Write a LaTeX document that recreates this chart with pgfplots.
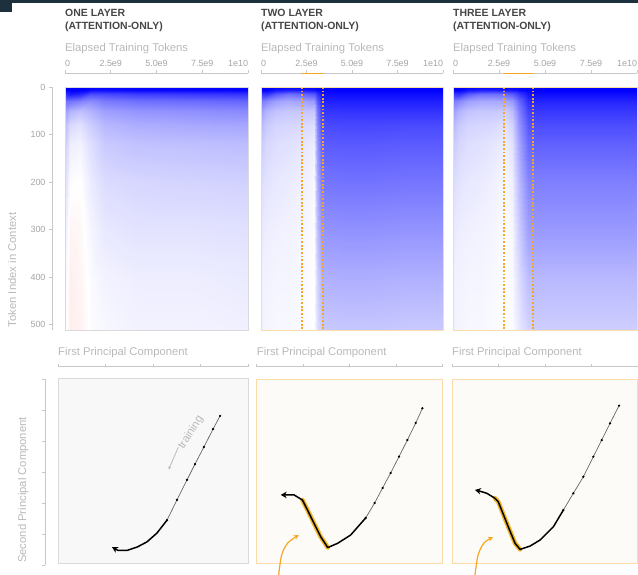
\documentclass[border=0pt]{standalone}
\usepackage{pgfplots}
\pgfplotsset{compat=1.18}
\usepackage{fontspec}
\setmainfont{Liberation Sans}
\usetikzlibrary{arrows.meta}
\definecolor{orng}{RGB}{245,166,35}
\definecolor{hl}{RGB}{240,178,40}
\definecolor{titlec}{RGB}{70,70,70}
\definecolor{labc}{RGB}{185,185,185}
\definecolor{tickc}{RGB}{165,165,165}
\definecolor{rulec}{RGB}{200,200,200}
\definecolor{bord1}{RGB}{218,218,218}
\definecolor{bordo}{RGB}{252,218,170}
\definecolor{bg1}{RGB}{248,248,248}
\definecolor{bgo}{RGB}{253,251,248}
\definecolor{strip}{RGB}{28,48,62}
\newcommand{\labfont}{\fontsize{11.3}{13}\selectfont}
\newcommand{\titfont}{\fontsize{10.5}{12}\selectfont\bfseries}
\pgfplotsset{
  heat/.style={scale only axis, anchor=south west, height=243bp,
    xmin=0, xmax=10, ymin=0, ymax=511, y dir=reverse,
    xtick=\empty, ytick=\empty, axis on top,
    colormap={rwb}{rgb255(0cm)=(255,0,0); rgb255(1cm)=(255,255,255); rgb255(2cm)=(0,0,255)},
    point meta min=-1, point meta max=1},
  ruler/.style={scale only axis, anchor=south west, height=1bp, hide y axis,
    axis x line=top, axis line style={rulec, line width=0.8pt, -},
    tick style={rulec, line width=0.8pt}, tick align=outside, major tick length=3bp,
    ymin=0, ymax=1, clip=false},
  hruler/.style={ruler, xmin=0, xmax=10, xtick={0,2.5,5,7.5,10},
    xticklabels={\makebox[0pt][l]{0},2.5e9,5.0e9,7.5e9,\makebox[0pt][r]{1e10}},
    xticklabel style={text=tickc, font=\fontsize{9}{10}\selectfont}},
  pruler/.style={ruler, xmin=0, xmax=1, xtick={0,0.25,0.5,0.75,1}, xticklabels={}},
  pc/.style={scale only axis, anchor=south west, xmin=0, xmax=1, ymin=0, ymax=1,
    xtick=\empty, ytick=\empty, clip=false},
  early/.style={black!60, line width=0.7pt, mark=*, mark size=0.75pt, mark options={black}},
  late/.style={black, line width=1.5pt, line join=round},
  vline/.style={orng, line width=1.6pt, dash pattern=on 1.8pt off 1.8pt},
}
\begin{document}
\begin{tikzpicture}
\useasboundingbox (0,0) rectangle (638bp,-575bp);
\fill[strip] (0,0) rectangle (12bp,-12bp);
\fill[strip] (12bp,0) rectangle (638bp,-3bp);

% ---------- titles ----------
\node[anchor=base west, text=titlec, font=\titfont, inner sep=0] at (65bp,-16bp) {ONE LAYER};
\node[anchor=base west, text=titlec, font=\titfont, inner sep=0] at (65bp,-29.5bp) {(ATTENTION-ONLY)};
\node[anchor=base west, text=titlec, font=\titfont, inner sep=0] at (261bp,-16bp) {TWO LAYER};
\node[anchor=base west, text=titlec, font=\titfont, inner sep=0] at (261bp,-29.5bp) {(ATTENTION-ONLY)};
\node[anchor=base west, text=titlec, font=\titfont, inner sep=0] at (453bp,-16bp) {THREE LAYER};
\node[anchor=base west, text=titlec, font=\titfont, inner sep=0] at (453bp,-29.5bp) {(ATTENTION-ONLY)};
\foreach \xx in {65,261,453}{
  \node[anchor=base west, text=labc, font=\labfont, inner sep=0] at (\xx bp,-51.7bp) {Elapsed Training Tokens};
}
\foreach \xx in {58,256.7,452}{
  \node[anchor=base west, text=labc, font=\labfont, inner sep=0] at (\xx bp,-355.7bp) {First Principal Component};
}
\node[rotate=90, anchor=base, text=labc, font=\labfont, inner sep=0] at (16bp,-270bp) {Token Index in Context};
\node[rotate=90, anchor=base, text=labc, font=\labfont, inner sep=0] at (26bp,-490bp) {Second Principal Component};

% ---------- heatmap rulers ----------
\begin{axis}[hruler, at={(65bp,-74.3bp)}, width=183bp]\end{axis}
\begin{axis}[hruler, at={(261bp,-74.3bp)}, width=182bp]
\addplot[orng, line width=1pt] coordinates {(2.25,1) (3.4,1)};
\end{axis}
\begin{axis}[hruler, at={(453bp,-74.3bp)}, width=184bp]
\addplot[orng, line width=1pt] coordinates {(2.77,1) (4.35,1)};
\end{axis}
% token ruler
\begin{axis}[scale only axis, anchor=south west, at={(52bp,-330bp)}, width=1bp, height=243bp,
  hide x axis, axis y line=left, axis line style={rulec, line width=0.8pt, -},
  tick style={rulec, line width=0.8pt}, tick align=outside, major tick length=3bp,
  xmin=0, xmax=1, ymin=0, ymax=511, y dir=reverse,
  ytick={0,100,200,300,400,500}, yticklabels={0,100,200,300,400,500},
  yticklabel style={text=tickc, font=\fontsize{9}{10}\selectfont}]
\end{axis}

% ---------- heatmap 1 ----------
\begin{axis}[heat, at={(65bp,-330bp)}, width=183bp, axis line style={bord1, line width=0.8pt}]
\addplot[surf, shader=interp, mesh/cols=8, point meta=explicit] table[meta=z, row sep=\\] {
x y z\\
0 0 1\\ 0.3 0 1\\ 0.8 0 1\\ 1.4 0 1\\ 2.2 0 1\\ 4 0 1\\ 7 0 1\\ 10 0 1\\
0 6 1\\ 0.3 6 1\\ 0.8 6 1\\ 1.4 6 0.95\\ 2.2 6 0.95\\ 4 6 0.97\\ 7 6 0.98\\ 10 6 0.98\\
0 15 0.8\\ 0.3 15 0.9\\ 0.8 15 0.85\\ 1.4 15 0.7\\ 2.2 15 0.72\\ 4 15 0.76\\ 7 15 0.78\\ 10 15 0.8\\
0 30 0.55\\ 0.3 30 0.55\\ 0.8 30 0.5\\ 1.4 30 0.45\\ 2.2 30 0.52\\ 4 30 0.56\\ 7 30 0.58\\ 10 30 0.6\\
0 50 0.38\\ 0.3 50 0.3\\ 0.8 50 0.25\\ 1.4 50 0.3\\ 2.2 50 0.38\\ 4 50 0.42\\ 7 50 0.44\\ 10 50 0.46\\
0 80 0.26\\ 0.3 80 0.15\\ 0.8 80 0.12\\ 1.4 80 0.2\\ 2.2 80 0.28\\ 4 80 0.32\\ 7 80 0.34\\ 10 80 0.35\\
0 120 0.2\\ 0.3 120 0.07\\ 0.8 120 0.05\\ 1.4 120 0.13\\ 2.2 120 0.21\\ 4 120 0.24\\ 7 120 0.25\\ 10 120 0.26\\
0 200 0.13\\ 0.3 200 0.01\\ 0.8 200 0\\ 1.4 200 0.08\\ 2.2 200 0.14\\ 4 200 0.16\\ 7 200 0.17\\ 10 200 0.18\\
0 300 0.08\\ 0.3 300 -0.04\\ 0.8 300 -0.03\\ 1.4 300 0.04\\ 2.2 300 0.09\\ 4 300 0.11\\ 7 300 0.11\\ 10 300 0.12\\
0 400 0.05\\ 0.3 400 -0.06\\ 0.8 400 -0.04\\ 1.4 400 0.02\\ 2.2 400 0.05\\ 4 400 0.07\\ 7 400 0.07\\ 10 400 0.08\\
0 511 0.03\\ 0.3 511 -0.07\\ 0.8 511 -0.05\\ 1.4 511 0.01\\ 2.2 511 0.03\\ 4 511 0.05\\ 7 511 0.05\\ 10 511 0.06\\
};
\end{axis}

% ---------- heatmap 2 ----------
\begin{axis}[heat, at={(261bp,-330bp)}, width=182bp, axis line style={bordo, line width=0.8pt}]
\addplot[surf, shader=interp, mesh/cols=12, point meta=explicit] table[meta=z, row sep=\\] {
x y z\\
0 0 1\\ 0.3 0 1\\ 0.8 0 1\\ 1.5 0 1\\ 2.25 0 1\\ 2.9 0 1\\ 3.1 0 1\\ 3.35 0 1\\ 4.5 0 1\\ 6 0 1\\ 8 0 1\\ 10 0 1\\
0 6 1\\ 0.3 6 1\\ 0.8 6 0.92\\ 1.5 6 0.88\\ 2.25 6 0.9\\ 2.9 6 0.93\\ 3.1 6 0.97\\ 3.35 6 1\\ 4.5 6 1\\ 6 6 1\\ 8 6 1\\ 10 6 1\\
0 15 0.78\\ 0.3 15 0.8\\ 0.8 15 0.65\\ 1.5 15 0.56\\ 2.25 15 0.6\\ 2.9 15 0.66\\ 3.1 15 0.8\\ 3.35 15 0.94\\ 4.5 15 0.95\\ 6 15 0.95\\ 8 15 0.95\\ 10 15 0.95\\
0 30 0.52\\ 0.3 30 0.47\\ 0.8 30 0.38\\ 1.5 30 0.34\\ 2.25 30 0.36\\ 2.9 30 0.4\\ 3.1 30 0.64\\ 3.35 30 0.87\\ 4.5 30 0.88\\ 6 30 0.88\\ 8 30 0.88\\ 10 30 0.88\\
0 50 0.38\\ 0.3 50 0.3\\ 0.8 50 0.24\\ 1.5 50 0.22\\ 2.25 50 0.22\\ 2.9 50 0.22\\ 3.1 50 0.52\\ 3.35 50 0.79\\ 4.5 50 0.8\\ 6 50 0.8\\ 8 50 0.8\\ 10 50 0.8\\
0 80 0.28\\ 0.3 80 0.21\\ 0.8 80 0.17\\ 1.5 80 0.16\\ 2.25 80 0.15\\ 2.9 80 0.13\\ 3.1 80 0.45\\ 3.35 80 0.71\\ 4.5 80 0.72\\ 6 80 0.72\\ 8 80 0.71\\ 10 80 0.71\\
0 120 0.21\\ 0.3 120 0.16\\ 0.8 120 0.13\\ 1.5 120 0.12\\ 2.25 120 0.1\\ 2.9 120 0.07\\ 3.1 120 0.39\\ 3.35 120 0.64\\ 4.5 120 0.65\\ 6 120 0.65\\ 8 120 0.64\\ 10 120 0.64\\
0 200 0.14\\ 0.3 200 0.11\\ 0.8 200 0.09\\ 1.5 200 0.08\\ 2.25 200 0.06\\ 2.9 200 0.03\\ 3.1 200 0.31\\ 3.35 200 0.54\\ 4.5 200 0.55\\ 6 200 0.55\\ 8 200 0.54\\ 10 200 0.54\\
0 300 0.09\\ 0.3 300 0.07\\ 0.8 300 0.06\\ 1.5 300 0.05\\ 2.25 300 0.04\\ 2.9 300 0.01\\ 3.1 300 0.24\\ 3.35 300 0.42\\ 4.5 300 0.43\\ 6 300 0.43\\ 8 300 0.42\\ 10 300 0.42\\
0 400 0.06\\ 0.3 400 0.05\\ 0.8 400 0.04\\ 1.5 400 0.04\\ 2.25 400 0.03\\ 2.9 400 0\\ 3.1 400 0.17\\ 3.35 400 0.31\\ 4.5 400 0.32\\ 6 400 0.32\\ 8 400 0.31\\ 10 400 0.31\\
0 511 0.05\\ 0.3 511 0.04\\ 0.8 511 0.03\\ 1.5 511 0.03\\ 2.25 511 0.02\\ 2.9 511 0\\ 3.1 511 0.12\\ 3.35 511 0.21\\ 4.5 511 0.22\\ 6 511 0.22\\ 8 511 0.21\\ 10 511 0.21\\
};
\addplot[vline] coordinates {(2.25,0) (2.25,511)};
\addplot[vline] coordinates {(3.4,0) (3.4,511)};
\end{axis}

% ---------- heatmap 3 ----------
\begin{axis}[heat, at={(453bp,-330bp)}, width=184bp, axis line style={bordo, line width=0.8pt}]
\addplot[surf, shader=interp, mesh/cols=13, point meta=explicit] table[meta=z, row sep=\\] {
x y z\\
0 0 1\\ 0.3 0 1\\ 0.8 0 1\\ 1.5 0 1\\ 2.2 0 1\\ 2.8 0 1\\ 3.2 0 1\\ 3.6 0 1\\ 4.1 0 1\\ 4.4 0 1\\ 6 0 1\\ 8 0 1\\ 10 0 1\\
0 6 1\\ 0.3 6 1\\ 0.8 6 0.92\\ 1.5 6 0.88\\ 2.2 6 0.88\\ 2.8 6 0.9\\ 3.2 6 0.92\\ 3.6 6 0.96\\ 4.1 6 1\\ 4.4 6 1\\ 6 6 1\\ 8 6 1\\ 10 6 1\\
0 15 0.78\\ 0.3 15 0.8\\ 0.8 15 0.65\\ 1.5 15 0.56\\ 2.2 15 0.56\\ 2.8 15 0.58\\ 3.2 15 0.64\\ 3.6 15 0.78\\ 4.1 15 0.92\\ 4.4 15 0.95\\ 6 15 0.95\\ 8 15 0.95\\ 10 15 0.95\\
0 30 0.52\\ 0.3 30 0.47\\ 0.8 30 0.38\\ 1.5 30 0.34\\ 2.2 30 0.34\\ 2.8 30 0.35\\ 3.2 30 0.4\\ 3.6 30 0.6\\ 4.1 30 0.82\\ 4.4 30 0.86\\ 6 30 0.86\\ 8 30 0.86\\ 10 30 0.86\\
0 50 0.38\\ 0.3 50 0.3\\ 0.8 50 0.24\\ 1.5 50 0.22\\ 2.2 50 0.22\\ 2.8 50 0.2\\ 3.2 50 0.26\\ 3.6 50 0.5\\ 4.1 50 0.74\\ 4.4 50 0.78\\ 6 50 0.78\\ 8 50 0.78\\ 10 50 0.78\\
0 80 0.28\\ 0.3 80 0.21\\ 0.8 80 0.17\\ 1.5 80 0.16\\ 2.2 80 0.15\\ 2.8 80 0.12\\ 3.2 80 0.17\\ 3.6 80 0.42\\ 4.1 80 0.66\\ 4.4 80 0.7\\ 6 80 0.7\\ 8 80 0.7\\ 10 80 0.7\\
0 120 0.21\\ 0.3 120 0.16\\ 0.8 120 0.13\\ 1.5 120 0.12\\ 2.2 120 0.1\\ 2.8 120 0.07\\ 3.2 120 0.11\\ 3.6 120 0.35\\ 4.1 120 0.58\\ 4.4 120 0.62\\ 6 120 0.62\\ 8 120 0.62\\ 10 120 0.62\\
0 200 0.14\\ 0.3 200 0.11\\ 0.8 200 0.09\\ 1.5 200 0.08\\ 2.2 200 0.06\\ 2.8 200 0.03\\ 3.2 200 0.06\\ 3.6 200 0.27\\ 4.1 200 0.47\\ 4.4 200 0.5\\ 6 200 0.5\\ 8 200 0.5\\ 10 200 0.5\\
0 300 0.09\\ 0.3 300 0.07\\ 0.8 300 0.06\\ 1.5 300 0.05\\ 2.2 300 0.04\\ 2.8 300 0.01\\ 3.2 300 0.03\\ 3.6 300 0.2\\ 4.1 300 0.37\\ 4.4 300 0.4\\ 6 300 0.4\\ 8 300 0.4\\ 10 300 0.4\\
0 400 0.06\\ 0.3 400 0.05\\ 0.8 400 0.04\\ 1.5 400 0.04\\ 2.2 400 0.03\\ 2.8 400 0\\ 3.2 400 0.02\\ 3.6 400 0.14\\ 4.1 400 0.26\\ 4.4 400 0.28\\ 6 400 0.28\\ 8 400 0.28\\ 10 400 0.28\\
0 511 0.05\\ 0.3 511 0.04\\ 0.8 511 0.03\\ 1.5 511 0.03\\ 2.2 511 0.02\\ 2.8 511 0\\ 3.2 511 0.01\\ 3.6 511 0.09\\ 4.1 511 0.17\\ 4.4 511 0.19\\ 6 511 0.19\\ 8 511 0.19\\ 10 511 0.19\\
};
\addplot[vline] coordinates {(2.77,0) (2.77,511)};
\addplot[vline] coordinates {(4.35,0) (4.35,511)};
\end{axis}

% ---------- PC rulers ----------
\begin{axis}[pruler, at={(58bp,-367.7bp)}, width=190bp]\end{axis}
\begin{axis}[pruler, at={(256.7bp,-367.7bp)}, width=186bp]\end{axis}
\begin{axis}[pruler, at={(452bp,-367.7bp)}, width=186bp]\end{axis}
\begin{axis}[scale only axis, anchor=south west, at={(45bp,-565bp)}, width=1bp, height=186bp,
  hide x axis, axis y line=left, axis line style={rulec, line width=0.8pt, -},
  tick style={rulec, line width=0.8pt}, tick align=outside, major tick length=3bp,
  xmin=0, xmax=1, ymin=0, ymax=1,
  ytick={0,0.16667,0.33333,0.5,0.66667,0.83333,1}, yticklabels={}]
\end{axis}

% ---------- PC panel 1 ----------
\begin{axis}[pc, at={(58bp,-563bp)}, width=190bp, height=185bp,
  axis background/.style={fill=bg1}, axis line style={bord1, line width=0.8pt}]
\addplot[early] coordinates {(0.853,0.795) (0.816,0.724) (0.768,0.627) (0.721,0.535) (0.679,0.449) (0.626,0.341) (0.574,0.232)};
\addplot[late, -{Stealth[length=6bp, width=6.5bp]}] coordinates {(0.574,0.232) (0.521,0.162) (0.468,0.114) (0.416,0.086) (0.363,0.068) (0.316,0.068) (0.284,0.086)};
\node[rotate=58, text=labc, font=\labfont, inner sep=0] at (axis cs:0.700,0.705) {training};
\draw[labc, line width=0.8pt, -{Stealth[length=3.5bp, width=3bp]}] (axis cs:0.633,0.625) -- (axis cs:0.582,0.505);
\end{axis}

% ---------- PC panel 2 ----------
\begin{axis}[pc, at={(256.7bp,-563bp)}, width=186bp, height=184bp,
  axis background/.style={fill=bgo}, axis line style={bordo, line width=0.8pt}]
\addplot[hl, line width=4.5pt, line cap=round, line join=round] coordinates {(0.382,0.084) (0.344,0.143) (0.308,0.216) (0.273,0.288) (0.246,0.342)};
\addplot[early] coordinates {(0.891,0.841) (0.855,0.761) (0.810,0.668) (0.765,0.578) (0.720,0.489) (0.677,0.408) (0.634,0.326) (0.586,0.245)};
\addplot[late, -{Stealth[length=6bp, width=6.5bp]}] coordinates {(0.586,0.245) (0.505,0.152) (0.435,0.107) (0.382,0.084) (0.344,0.143) (0.308,0.216) (0.273,0.288) (0.246,0.342) (0.201,0.370) (0.129,0.370)};
\addplot[orng, line width=1.2pt, smooth, -{Stealth[length=5bp, width=5bp]}] coordinates {(0.118,-0.065) (0.134,0.043) (0.167,0.109) (0.226,0.152)};
\end{axis}

% ---------- PC panel 3 ----------
\begin{axis}[pc, at={(452bp,-563bp)}, width=185bp, height=184bp,
  axis background/.style={fill=bgo}, axis line style={bordo, line width=0.8pt}]
\addplot[hl, line width=4.5pt, line cap=round, line join=round] coordinates {(0.368,0.074) (0.341,0.107) (0.304,0.197) (0.268,0.288) (0.250,0.333) (0.232,0.352)};
\addplot[early] coordinates {(0.903,0.855) (0.854,0.759) (0.809,0.668) (0.764,0.578) (0.710,0.469) (0.656,0.379) (0.602,0.288)};
\addplot[late, -{Stealth[length=6bp, width=6.5bp]}] coordinates {(0.602,0.288) (0.548,0.197) (0.476,0.125) (0.422,0.092) (0.368,0.074) (0.341,0.107) (0.304,0.197) (0.268,0.288) (0.250,0.333) (0.232,0.352) (0.188,0.379) (0.142,0.393) (0.124,0.397)};
\addplot[orng, line width=1.2pt, smooth, -{Stealth[length=5bp, width=5bp]}] coordinates {(0.124,-0.065) (0.141,0.043) (0.173,0.109) (0.222,0.141)};
\end{axis}
\end{tikzpicture}
\end{document}
